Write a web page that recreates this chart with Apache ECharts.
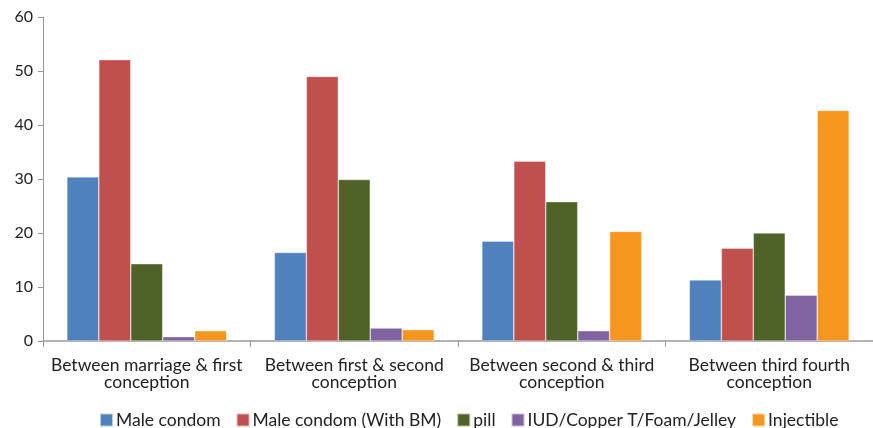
<!DOCTYPE html>
<html><head><meta charset="utf-8">
<script src="https://cdn.jsdelivr.net/npm/echarts@6/dist/echarts.min.js"></script>
<style>html,body{margin:0;padding:0;background:#fff}#c{width:873px;height:428px}</style>
</head><body><div id="c"></div>
<script>
const categories = ["Between marriage & first\nconception", "Between first & second\nconception", "Between second & third\nconception", "Between third fourth\nconception"];
const seriesNames = ["Male condom", "Male condom (With BM)", "pill", "IUD/Copper T/Foam/Jelley", "Injectible"];
const maleCondom = [30.4, 16.4, 18.5, 11.3];
const maleCondomBM = [52.1, 49.0, 33.3, 17.2];
const pill = [14.3, 29.9, 25.8, 20.0];
const iud = [0.8, 2.4, 1.9, 8.5];
const injectible = [1.9, 2.1, 20.3, 42.7];
const yTicks = [0, 10, 20, 30, 40, 50, 60];
const colors = ["#4F81BD", "#C0504D", "#4F6228", "#8064A2", "#F7961E"];
const values = [maleCondom, maleCondomBM, pill, iud, injectible];
const font = "Lato, 'Open Sans', sans-serif";
const chart = echarts.init(document.getElementById('c'), null, {renderer: 'canvas'});
chart.setOption({
  animation: false,
  color: colors,
  textStyle: {fontFamily: font},
  grid: {left: 43, top: 17, width: 834, height: 324, containLabel: false},
  legend: {
    top: 406, left: 94, itemWidth: 13, itemHeight: 13, itemGap: 15,
    icon: 'rect',
    textStyle: {fontSize: 17.5, color: '#222', fontFamily: font, padding: [0, 0, 0, -2]},
    data: seriesNames
  },
  xAxis: {
    type: 'category', data: categories,
    axisLine: {lineStyle: {color: '#999', width: 1.5}},
    axisTick: {show: true, length: 6, lineStyle: {color: '#999'}},
    axisLabel: {interval: 0, hideOverlap: false, fontSize: 17.5, color: '#222', lineHeight: 17, margin: 16, fontFamily: font}
  },
  yAxis: {
    type: 'value', min: yTicks[0], max: yTicks[yTicks.length - 1], interval: 10,
    axisLine: {show: true, lineStyle: {color: '#999'}},
    axisTick: {show: true, length: 5, lineStyle: {color: '#999'}},
    splitLine: {show: false},
    axisLabel: {fontSize: 16, color: '#222', margin: 10, fontFamily: font}
  },
  series: seriesNames.map((n, i) => ({
    name: n, type: 'bar', data: values[i],
    barGap: '0%', barCategoryGap: '23%',
    itemStyle: {color: colors[i], borderColor: 'rgba(255,255,255,0.6)', borderWidth: 0.6}
  }))
});
</script></body></html>
